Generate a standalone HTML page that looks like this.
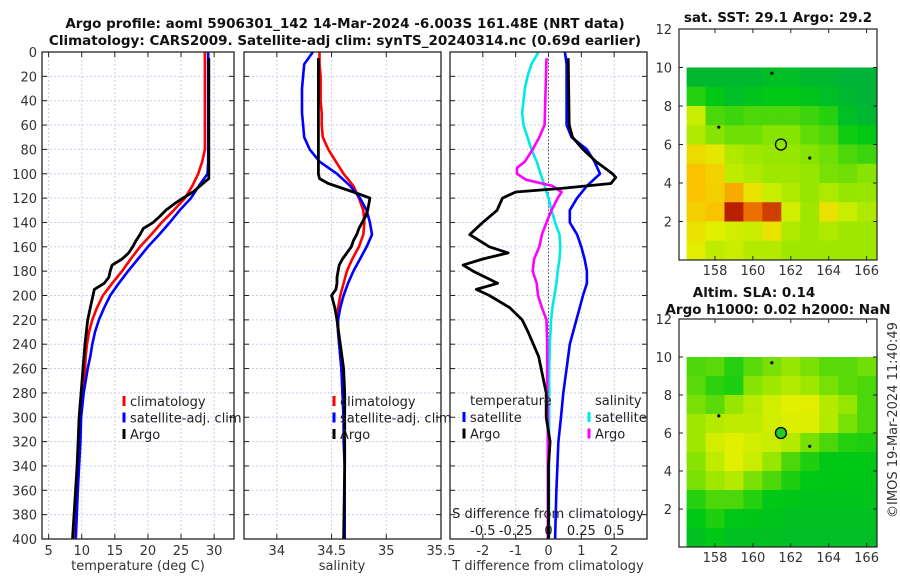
<!DOCTYPE html>
<html><head><meta charset="utf-8">
<style>
html,body{margin:0;padding:0;background:#fff;}
svg{display:block;font-family:"DejaVu Sans","Liberation Sans",sans-serif;}
</style></head>
<body>
<svg id="fig" width="900" height="580" viewBox="0 0 900 580" xmlns="http://www.w3.org/2000/svg">
<g font-weight="bold" font-size="13.5" text-anchor="middle" fill="#111">
<text x="345" y="28">Argo profile: aoml 5906301_142 14-Mar-2024 -6.003S 161.48E (NRT data)</text>
<text x="345" y="45">Climatology: CARS2009. Satellite-adj clim: synTS_20240314.nc (0.69d earlier)</text>
</g>
<g id="layer"></g>
<text x="0" y="0" font-size="13" fill="#333" text-anchor="middle" transform="translate(897,420) rotate(-90)">©IMOS 19-Mar-2024 11:40:49</text>
</svg>
<script>
// ---------- profile data ----------
const depthGrid = [0,10,20,30,40,50,60,70,80,90,100,110,120,130,140,150,160,170,180,190,200,210,220,230,240,250,260,280,300,320,340,360,380,400];
const tempClim = [28.6,28.6,28.6,28.6,28.6,28.6,28.6,28.6,28.6,28.2,27.6,26.7,25.6,23.9,22.1,20.5,18.8,17.4,16.1,14.6,13.2,12.3,11.6,11.1,10.8,10.6,10.5,10.0,9.7,9.6,9.4,9.3,9.1,9.0];
const tempSat  = [29.1,29.1,29.1,29.1,29.1,29.1,29.1,29.1,29.1,29.1,29.0,27.7,26.5,24.8,23.3,21.7,20.0,18.5,17.0,15.6,14.3,13.4,12.6,12.0,11.6,11.3,10.9,10.3,9.9,9.8,9.6,9.4,9.25,9.1];
const argoDepth = [5,20,40,60,80,100,104,108,115,120,125,130,135,140,145,150,155,160,165,170,175,180,185,190,195,200,210,220,240,260,280,300,340,400];
const tempArgo = [29.2,29.2,29.2,29.2,29.2,29.2,29.2,28.3,26.8,25.3,23.9,22.7,21.8,20.8,19.3,18.8,18.2,17.7,17.1,16.1,14.6,14.3,14.1,13.4,11.9,11.7,11.3,10.9,10.5,10.2,9.9,9.6,9.3,8.6];
const salClim = [34.39,34.39,34.4,34.4,34.4,34.41,34.41,34.42,34.47,34.54,34.61,34.7,34.75,34.79,34.8,34.79,34.75,34.69,34.64,34.61,34.58,34.56,34.55,34.56,34.57,34.58,34.59,34.6,34.61,34.62,34.62,34.62,34.62,34.62];
const salSat  = [34.33,34.25,34.24,34.23,34.23,34.23,34.24,34.25,34.3,34.39,34.55,34.67,34.76,34.82,34.85,34.87,34.82,34.76,34.7,34.65,34.61,34.58,34.56,34.56,34.57,34.58,34.59,34.6,34.61,34.61,34.62,34.62,34.62,34.62];
const salArgo = [34.38,34.38,34.38,34.38,34.38,34.38,34.39,34.47,34.7,34.85,34.84,34.83,34.81,34.78,34.75,34.73,34.7,34.68,34.64,34.6,34.57,34.56,34.55,34.55,34.54,34.5,34.53,34.55,34.58,34.61,34.62,34.62,34.62,34.61];
const dtSat = [0.5,0.55,0.55,0.55,0.55,0.55,0.55,0.7,1.17,1.4,1.57,1.17,0.87,0.65,0.65,0.87,1.0,1.1,1.17,1.17,1.05,0.95,0.85,0.75,0.65,0.6,0.55,0.45,0.38,0.3,0.27,0.24,0.22,0.2];
const diffArgoDepth = [5,60,70,80,90,100,103,108,112,115,120,130,140,150,160,165,170,175,180,190,195,200,210,220,230,250,280,300,320,340,400];
const dtArgo = [0.6,0.63,0.73,1.05,1.45,1.95,2.05,1.9,0.4,-1.0,-1.4,-1.57,-2.0,-2.4,-1.8,-1.23,-2.0,-2.6,-2.3,-1.55,-2.2,-1.8,-1.18,-0.8,-0.62,-0.3,-0.07,-0.07,0.05,0.0,0.0];
const dsSat = [-0.076,-0.13,-0.16,-0.18,-0.19,-0.2,-0.19,-0.16,-0.13,-0.09,-0.06,-0.03,0.0,0.023,0.05,0.084,0.09,0.084,0.07,0.06,0.045,0.03,0.02,0.015,0.01,0.008,0.005,0.005,0.005,0.004,0.004,0.004,0.004,0.004];
const dsArgoDepth = [5,60,70,80,90,95,100,105,110,115,120,130,140,150,160,170,180,190,200,210,220,240,280,300,400];
const dsArgo = [-0.015,-0.03,-0.07,-0.12,-0.18,-0.24,-0.24,-0.17,0.03,0.1,0.07,0.023,-0.015,-0.05,-0.07,-0.11,-0.12,-0.09,-0.08,-0.05,-0.015,-0.01,-0.01,-0.005,-0.005];
const tempTicks = [5,10,15,20,25,30];
const salTicks = [34,34.5,35,35.5];
const salTickLabels = ["34","34.5","35","35.5"];
const tdTicks = [-2,-1,0,1,2];
const sdTicks = [-0.5,-0.25,0,0.25,0.5];
const depthTicks = [0,20,40,60,80,100,120,140,160,180,200,220,240,260,280,300,320,340,360,380,400];
// ---------- map data (1 deg cells, rows lat 9.5 -> 0.5, cols lon 157 -> 166) ----------
const mapLons = [157,158,159,160,161,162,163,164,165,166];
const mapLats = [9.5,8.5,7.5,6.5,5.5,4.5,3.5,2.5,1.5,0.5];
const sstGrid = [
 [0.12,0.12,0.12,0.12,0.15,0.15,0.12,0.12,0.1,0.1],
 [0.25,0.2,0.15,0.18,0.2,0.2,0.18,0.15,0.12,0.1],
 [0.5,0.3,0.28,0.3,0.3,0.3,0.28,0.25,0.15,0.12],
 [0.45,0.38,0.35,0.35,0.38,0.38,0.33,0.3,0.22,0.2],
 [0.62,0.58,0.45,0.42,0.4,0.4,0.38,0.35,0.3,0.28],
 [0.7,0.65,0.48,0.45,0.42,0.42,0.4,0.36,0.35,0.38],
 [0.7,0.66,0.75,0.6,0.5,0.45,0.4,0.45,0.4,0.4],
 [0.66,0.7,0.96,0.86,0.92,0.52,0.42,0.6,0.5,0.45],
 [0.6,0.55,0.52,0.5,0.6,0.45,0.42,0.45,0.42,0.42],
 [0.56,0.48,0.5,0.46,0.46,0.42,0.42,0.42,0.42,0.42]];
const slaGrid = [
 [0.3,0.32,0.25,0.32,0.36,0.4,0.36,0.32,0.32,0.35],
 [0.32,0.26,0.24,0.38,0.42,0.46,0.42,0.36,0.32,0.3],
 [0.36,0.32,0.4,0.47,0.52,0.55,0.56,0.46,0.4,0.3],
 [0.42,0.46,0.48,0.48,0.52,0.54,0.54,0.46,0.36,0.3],
 [0.42,0.52,0.55,0.52,0.5,0.46,0.36,0.3,0.25,0.24],
 [0.38,0.48,0.55,0.5,0.4,0.3,0.24,0.2,0.2,0.2],
 [0.36,0.42,0.46,0.36,0.3,0.24,0.2,0.19,0.19,0.19],
 [0.25,0.3,0.3,0.25,0.2,0.19,0.18,0.18,0.18,0.18],
 [0.2,0.24,0.2,0.19,0.18,0.16,0.16,0.16,0.16,0.16],
 [0.16,0.2,0.16,0.16,0.16,0.15,0.15,0.15,0.15,0.15]];
const mapLonTicks = [158,160,162,164,166];
const mapLatTicks = [2,4,6,8,10,12];
const argoLon = 161.48, argoLat = 6.0;

const NS = "http://www.w3.org/2000/svg";
const layer = document.getElementById('layer');
function mk(tag, attrs, parent){ const e=document.createElementNS(NS,tag); for(const k in attrs) e.setAttribute(k,attrs[k]); (parent||layer).appendChild(e); return e; }
function txt(s, attrs, parent){ const e=mk('text',attrs,parent); e.textContent=s; return e; }

const PY0=52, PY1=539;
function yD(d){ return PY0 + d/400*(PY1-PY0); }
function scaleX(x0,x1,v0,v1){ return v=> x0+(v-v0)/(v1-v0)*(x1-x0); }

function panel(name, x0, x1, xs, ticks, labels, showY){
  const g = mk('g',{});
  
  
  // grid
  ticks.forEach(t=>{ const x=xs(t); if(x>x0+1&&x<x1-1){ const l=mk('line',{x1:x,x2:x,y1:PY0,y2:PY1,stroke:'#c9cfea','stroke-width':1,'stroke-dasharray':'2,2'},g);
      }});
  depthTicks.forEach(d=>{ const y=yD(d); if(d>0&&d<400){ const l=mk('line',{x1:x0,x2:x1,y1:y,y2:y,stroke:'#c9cfea','stroke-width':1,'stroke-dasharray':'2,2'},g);
      }
    mk('line',{x1:x0,x2:x0+5,y1:y,y2:y,stroke:'#222'},g); mk('line',{x1:x1-5,x2:x1,y1:y,y2:y,stroke:'#222'},g);
    if(showY){ const t=txt(String(d),{x:x0-5,y:y+5,'font-size':13,'text-anchor':'end',fill:'#333'},g);
        }
  });
  ticks.forEach((t,i)=>{ const x=xs(t); mk('line',{x1:x,x2:x,y1:PY1,y2:PY1-5,stroke:'#222'},g); mk('line',{x1:x,x2:x,y1:PY0,y2:PY0+5,stroke:'#222'},g);
    const tl=txt(labels[i],{x:x,y:PY1+16,'font-size':13,'text-anchor':'middle',fill:'#333'},g);
      });
  return g;
}
function frame(x0,x1,g){ const r=mk('rect',{x:x0,y:PY0,width:x1-x0,height:PY1-PY0,fill:'none',stroke:'#222','stroke-width':1.3},g);
    }
function line(g, xs, vals, depths, color, name, w){
  const pts = vals.map((v,i)=> xs(v).toFixed(1)+','+yD(depths[i]).toFixed(1)).join(' ');
  const p = mk('polyline',{points:pts,fill:'none',stroke:color,'stroke-width':w||2.6,'stroke-linejoin':'round'},g);
  
  
}
function legend(g, items, x, y0){
  items.forEach((it,i)=>{ const y=y0+i*16.5;
    const m=mk('line',{x1:x,x2:x,y1:y-6,y2:y+4,stroke:it[1],'stroke-width':3},g);
     
    const t=txt(it[0],{x:x+6,y:y+4,'font-size':13,fill:'#222'},g);
      });
}

// Panel 1 temperature
const xT = scaleX(42,234,4,33);
const g1 = panel('temperature-panel',42,234,xT,tempTicks,tempTicks.map(String),true);
line(g1,xT,tempClim,depthGrid,'#ff0000','temp-climatology-line');
line(g1,xT,tempSat,depthGrid,'#0000ff','temp-satellite-line');
line(g1,xT,tempArgo,argoDepth,'#000000','temp-argo-line',2.8);
frame(42,234,g1);
legend(g1,[['climatology','#ff0000'],['satellite-adj. clim','#0000ff'],['Argo','#000']],124,402);
const xl1=txt('temperature (deg C)',{x:138,y:570,'font-size':13,'text-anchor':'middle',fill:'#333'},g1);
 

// Panel 2 salinity
const xS = scaleX(244,441,33.7,35.5);
const g2 = panel('salinity-panel',244,441,xS,salTicks,salTickLabels,false);
line(g2,xS,salClim,depthGrid,'#ff0000','sal-climatology-line');
line(g2,xS,salSat,depthGrid,'#0000ff','sal-satellite-line');
line(g2,xS,salArgo,argoDepth.slice(0,salArgo.length),'#000000','sal-argo-line',2.8);
frame(244,441,g2);
legend(g2,[['climatology','#ff0000'],['satellite-adj. clim','#0000ff'],['Argo','#000']],334,402);
const xl2=txt('salinity',{x:342,y:570,'font-size':13,'text-anchor':'middle',fill:'#333'},g2);
 

// Panel 3 differences
const xD = scaleX(450,647,-3,3);
const xSD = scaleX(450,647,-0.75,0.75);
const g3 = panel('difference-panel',450,647,xD,tdTicks,tdTicks.map(String),false);
const zl = mk('line',{x1:xD(0),x2:xD(0),y1:PY0,y2:PY1,stroke:'#555','stroke-width':1,'stroke-dasharray':'1.5,2'},g3);
 
line(g3,xSD,dsSat,depthGrid,'#00e8e8','sdiff-satellite-line');
line(g3,xSD,dsArgo,dsArgoDepth,'#ff00ff','sdiff-argo-line');
line(g3,xD,dtSat,depthGrid,'#0000ff','tdiff-satellite-line');
line(g3,xD,dtArgo,diffArgoDepth,'#000000','tdiff-argo-line',2.8);
frame(450,647,g3);
const lt=txt('temperature',{x:470,y:405,'font-size':13,fill:'#222'},g3);  
const ls=txt('salinity',{x:595,y:405,'font-size':13,fill:'#222'},g3);  
legend(g3,[['satellite','#0000ff'],['Argo','#000']],464,418);
legend(g3,[['satellite','#00e8e8'],['Argo','#ff00ff']],589,418);
const st=txt('S difference from climatology',{x:548,y:518,'font-size':13,'text-anchor':'middle',fill:'#222'},g3);
 
sdTicks.forEach(v=>{ const t=txt(String(v),{x:xSD(v),y:535,'font-size':13,'text-anchor':'middle',fill:'#222'},g3);
    });
const xl3=txt('T difference from climatology',{x:548,y:570,'font-size':13,'text-anchor':'middle',fill:'#333'},g3);
 

// ---------- maps ----------
function colorOf(v){
  const stops=[[0,[0,160,90]],[0.2,[0,200,20]],[0.4,[150,230,0]],[0.55,[225,240,0]],[0.7,[250,195,0]],[0.85,[240,120,0]],[1,[165,0,0]]];
  for(let i=1;i<stops.length;i++){ if(v<=stops[i][0]){ const a=stops[i-1],b=stops[i],t=(v-a[0])/(b[0]-a[0]);
    return 'rgb('+a[1].map((c,k)=>Math.round(c+(b[1][k]-c)*t)).join(',')+')'; } }
  return 'rgb(165,0,0)';
}
function drawMap(name, y0, y1, grid, filled){
  const g=mk('g',{});
  
  
  const X=scaleX(679,877,156.1,166.55), Y=scaleX(y1,y0,0,12);
  grid.forEach((row,r)=>row.forEach((v,c)=>{
    const lx=X(mapLons[c]-0.5), rx=X(mapLons[c]+0.5), ty=Y(mapLats[r]+0.5), by=Y(mapLats[r]-0.5);
    const x0=Math.max(lx,679), x1=Math.min(rx,877);
    const cell=mk('rect',{x:x0,y:ty,width:x1-x0+0.5,height:by-ty+0.5,fill:colorOf(v)},g);
    
    
  }));
  const fr=mk('rect',{x:679,y:y0,width:198,height:y1-y0,fill:'none',stroke:'#222','stroke-width':1.2},g);
   
  mapLatTicks.forEach(t=>{ const y=Y(t); mk('line',{x1:679,x2:683,y1:y,y2:y,stroke:'#222'},g); mk('line',{x1:873,x2:877,y1:y,y2:y,stroke:'#222'},g);
    const tl=txt(String(t),{x:672,y:y+5,'font-size':13,'text-anchor':'end',fill:'#333'},g);
      });
  mapLonTicks.forEach(t=>{ const x=X(t); mk('line',{x1:x,x2:x,y1:y1,y2:y1-4,stroke:'#222'},g); mk('line',{x1:x,x2:x,y1:y0,y2:y0+4,stroke:'#222'},g);
    const tl=txt(String(t),{x:x,y:y1+15,'font-size':13,'text-anchor':'middle',fill:'#333'},g);
      });
  const c=mk('circle',{cx:X(argoLon),cy:Y(argoLat),r:5.5,fill:filled?'#22cc22':'none',stroke:'#000','stroke-width':1.3},g);
   
  [[158.2,6.9],[163,5.3],[161,9.7]].forEach(p=>{ const d=mk('circle',{cx:X(p[0]),cy:Y(p[1]),r:1.6,fill:'#000'},g);
      });
}
drawMap('sst-map',29,260,sstGrid,false);
drawMap('sla-map',319,547,slaGrid,true);
const mt1=txt('sat. SST: 29.1 Argo: 29.2',{x:778,y:22,'font-size':13.5,'font-weight':'bold','text-anchor':'middle',fill:'#111'});
 
const mt2=txt('Altim. SLA: 0.14',{x:754,y:297,'font-size':13.5,'font-weight':'bold','text-anchor':'middle',fill:'#111'});
 
const mt3=txt('Argo h1000: 0.02 h2000: NaN',{x:778,y:314,'font-size':13.5,'font-weight':'bold','text-anchor':'middle',fill:'#111'});
 
</script>
</body></html>
